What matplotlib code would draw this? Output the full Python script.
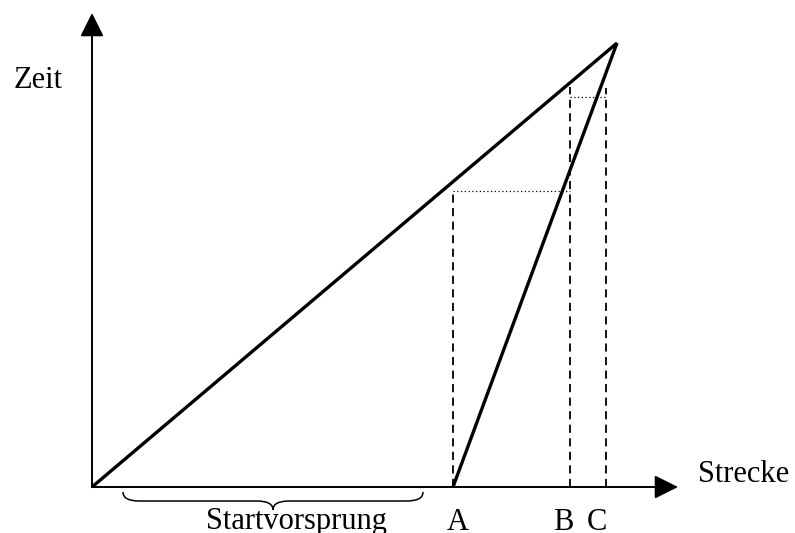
import matplotlib.pyplot as plt
import numpy as np
from matplotlib.path import Path
from matplotlib.patches import PathPatch

# positions along the track (x) and time (y), arbitrary units
start_x = [0, 525]          # slow runner, starts at origin
start_t = [0, 444]
chaser_x = [361, 525]       # fast runner, starts at A
chaser_t = [0, 444]
marks = ['A', 'B', 'C']
mark_x = [361, 478, 514]
mark_top = [298, 400, 399]
label_x = [366, 471, 505]
dot_t = [296, 390]           # dotted helper lines: A->B and B->C
axis_end = [586, 474]
lead = [31, 331]             # Startvorsprung brace

plt.rcParams['font.family'] = ['Liberation Serif', 'DejaVu Serif']

fig = plt.figure(figsize=(7.95, 5.33), dpi=100)
ax = fig.add_axes([0, 0, 1, 1])
ax.set_xlim(-92, 703)
ax.set_ylim(-46, 487)
ax.axis('off')

# axes with arrows
arr = dict(arrowstyle='-|>,head_length=1.0,head_width=0.5', mutation_scale=14.5,
           color='black', lw=1.4, shrinkA=0, shrinkB=0)
ax.annotate('', xy=(axis_end[0], 0), xytext=(0, 0), arrowprops=arr)
ax.annotate('', xy=(0, axis_end[1]), xytext=(0, 0), arrowprops=arr)

# dashed verticals
for x, top in zip(mark_x, mark_top):
    ax.plot([x, x], [0, top], color='black', lw=1.3, ls=(0, (4.5, 3)))

# dotted horizontals
ax.plot([mark_x[0], mark_x[1]], [dot_t[0], dot_t[0]], color='black', lw=0.9, ls=(0, (1, 2)))
ax.plot([mark_x[1], mark_x[2]], [dot_t[1], dot_t[1]], color='black', lw=0.9, ls=(0, (1, 2)))

# the two motion lines
ax.plot(start_x, start_t, color='black', lw=2.4, solid_capstyle='butt')
ax.plot(chaser_x, chaser_t, color='black', lw=2.4, solid_capstyle='butt')

# curly brace for the head start
x0, x1 = lead
y, h, q = -5, 18, 16
xm = (x0 + x1) / 2
verts = [(x0, y), (x0, y - h / 2), (x0 + q, y - h / 2),
         (xm - q, y - h / 2),
         (xm, y - h / 2), (xm, y - h),
         (xm, y - h / 2), (xm + q, y - h / 2),
         (x1 - q, y - h / 2),
         (x1, y - h / 2), (x1, y)]
codes = [Path.MOVETO, Path.CURVE3, Path.CURVE3, Path.LINETO,
         Path.CURVE3, Path.CURVE3, Path.CURVE3, Path.CURVE3,
         Path.LINETO, Path.CURVE3, Path.CURVE3]
ax.add_patch(PathPatch(Path(verts, codes), facecolor='none', edgecolor='black', lw=1.1))

# labels
fs = 22
ax.text(-54, 407, 'Zeit', fontsize=fs, ha='center', va='center')
ax.text(606, 13, 'Strecke', fontsize=fs, ha='left', va='center')
ax.text(204, -35, 'Startvorsprung', fontsize=fs, ha='center', va='center')
for m, lx in zip(marks, label_x):
    ax.text(lx, -35, m, fontsize=fs, ha='center', va='center')

fig.savefig('out.png', dpi=100)
